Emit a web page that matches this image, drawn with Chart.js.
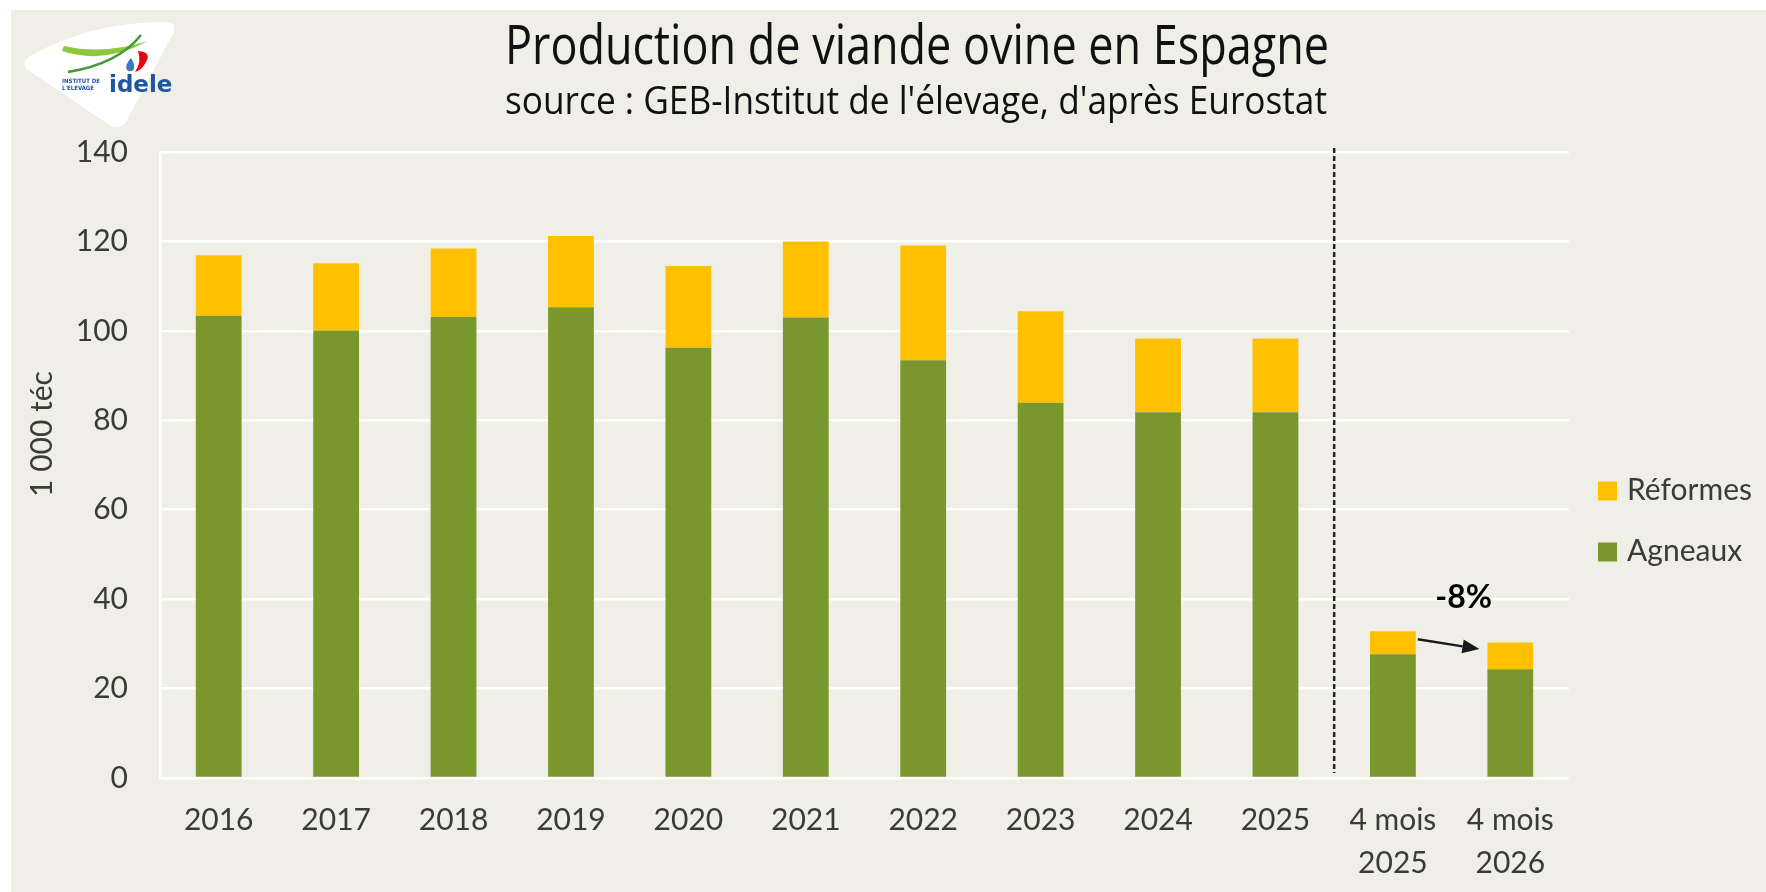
<!DOCTYPE html>
<html lang="fr">
<head>
<meta charset="utf-8">
<title>Production de viande ovine en Espagne</title>
<script src="https://cdn.jsdelivr.net/npm/chart.js@4.4.1/dist/chart.umd.min.js"></script>
<style>
    html, body { margin: 0; padding: 0; background: #ffffff; }
    #wrap { width: 1766px; height: 892px; }
</style>
</head>
<body>
<div id="wrap"><canvas id="chart" width="1766" height="892"></canvas></div>
<script>
// Data (1 000 téc)
const categories = ['2016', '2017', '2018', '2019', '2020', '2021', '2022', '2023', '2024', '2025',
    ['4 mois', '2025'], ['4 mois', '2026']];
const agneaux = [103.4, 100.1, 103.1, 105.3, 96.2, 103.0, 93.4, 83.9, 81.8, 81.8, 27.7, 24.3];
const reformes = [13.5, 15.0, 15.3, 15.9, 18.3, 17.0, 25.7, 20.5, 16.5, 16.5, 5.1, 6.0];
const yTicks = [0, 20, 40, 60, 80, 100, 120, 140];

const TITLE = 'Production de viande ovine en Espagne';
const SUBTITLE = "source : GEB-Institut de l'élevage, d'après Eurostat";
const Y_TITLE = '1 000 téc';
const CHANGE_LABEL = '-8%';

const BG = '#efefe7';
const GREEN = '#7a972d';
const YELLOW = '#ffc000';
const TEXT = '#3a3a3a';
const FONT = 'Lato, "Open Sans", sans-serif';

// Draw text squeezed or stretched horizontally so that it covers a given width
function drawFitted(ctx, text, cx, baseline, font, width) {
    ctx.save();
    ctx.font = font;
    const w = ctx.measureText(text).width;
    ctx.translate(cx, baseline);
    ctx.scale(width / w, 1);
    ctx.textAlign = 'center';
    ctx.textBaseline = 'alphabetic';
    ctx.fillText(text, 0, 0);
    ctx.restore();
}

function drawLogo(ctx) {
    ctx.save();
    // white rounded triangle, top edge slightly bulging
    ctx.fillStyle = '#ffffff';
    ctx.beginPath();
    ctx.moveTo(30, 56);
    ctx.quadraticCurveTo(90, 22, 165, 22);
    ctx.quadraticCurveTo(178, 22, 173, 34);
    ctx.lineTo(126, 122);
    ctx.quadraticCurveTo(118, 132, 108, 124);
    ctx.lineTo(28, 70);
    ctx.quadraticCurveTo(20, 63, 30, 56);
    ctx.closePath();
    ctx.fill();

    // light green swoosh
    ctx.fillStyle = '#8dc63f';
    ctx.beginPath();
    ctx.moveTo(62, 51);
    ctx.quadraticCurveTo(104, 65, 148, 41);
    ctx.quadraticCurveTo(104, 55, 64, 46);
    ctx.closePath();
    ctx.fill();
    // dark green stroke
    ctx.strokeStyle = '#3f9b35';
    ctx.lineWidth = 2.5;
    ctx.beginPath();
    ctx.moveTo(68, 72);
    ctx.quadraticCurveTo(118, 64, 141, 35);
    ctx.stroke();
    // red shape
    ctx.fillStyle = '#e30613';
    ctx.beginPath();
    ctx.moveTo(138, 51);
    ctx.quadraticCurveTo(152, 52, 146, 62);
    ctx.quadraticCurveTo(142, 70, 135, 72);
    ctx.quadraticCurveTo(142, 62, 138, 51);
    ctx.fill();
    // blue drop
    ctx.fillStyle = '#3a78c2';
    ctx.beginPath();
    ctx.moveTo(131, 58);
    ctx.quadraticCurveTo(124, 66, 127, 70);
    ctx.quadraticCurveTo(131, 73, 134, 69);
    ctx.quadraticCurveTo(135, 64, 131, 58);
    ctx.fill();

    // texts
    ctx.fillStyle = '#1f55a5';
    ctx.font = 'bold 23px "DejaVu Sans", sans-serif';
    ctx.textBaseline = 'alphabetic';
    ctx.textAlign = 'left';
    ctx.fillText('idele', 109, 92);
    ctx.font = 'bold 6px "DejaVu Sans Condensed", "DejaVu Sans", sans-serif';
    ctx.fillText('INSTITUT DE', 62, 83);
    ctx.fillText("L'ELEVAGE", 62, 90);
    ctx.restore();
}

const backgroundPlugin = {
    id: 'background',
    beforeDraw(chart) {
        const { ctx, width, height } = chart;
        ctx.save();
        ctx.fillStyle = '#ffffff';
        ctx.fillRect(0, 0, width, height);
        ctx.fillStyle = BG;
        ctx.fillRect(11, 10, width - 11, height - 10);
        ctx.restore();
        drawLogo(ctx);
    }
};

const decorPlugin = {
    id: 'decor',
    afterDraw(chart) {
        const { ctx, chartArea, scales } = chart;
        const x = scales.x, y = scales.y;
        ctx.save();

        // titles
        ctx.fillStyle = '#111111';
        drawFitted(ctx, TITLE, 917, 64, '54px "Open Sans", sans-serif', 824);
        drawFitted(ctx, SUBTITLE, 916, 114, '38px "Open Sans", sans-serif', 822);

        // y axis title
        ctx.save();
        ctx.translate(42, 434);
        ctx.rotate(-Math.PI / 2);
        ctx.fillStyle = TEXT;
        ctx.font = '30px ' + FONT;
        ctx.textAlign = 'center';
        ctx.textBaseline = 'middle';
        ctx.fillText(Y_TITLE, 0, 0);
        ctx.restore();

        // dashed separator between annual and 4-month data
        const sepX = (x.getPixelForValue(9) + x.getPixelForValue(10)) / 2;
        ctx.strokeStyle = '#222222';
        ctx.lineWidth = 2.5;
        ctx.setLineDash([5, 3]);
        ctx.beginPath();
        ctx.moveTo(sepX, chartArea.top - 4);
        ctx.lineTo(sepX, chartArea.bottom - 5);
        ctx.stroke();
        ctx.setLineDash([]);

        // arrow between the two 4-month bars
        const meta = chart.getDatasetMeta(0);
        const halfBar = meta.data[10].width / 2;
        const t0 = agneaux[10] + reformes[10];
        const t1 = agneaux[11] + reformes[11];
        const x0 = x.getPixelForValue(10) + halfBar + 2;
        const y0 = y.getPixelForValue(t0) + 8;
        const x1 = x.getPixelForValue(11) - halfBar - 8;
        const y1 = y.getPixelForValue(t1) + 6.5;
        const ang = Math.atan2(y1 - y0, x1 - x0);
        const headLen = 17, headW = 7;
        ctx.strokeStyle = '#1a1a1a';
        ctx.fillStyle = '#1a1a1a';
        ctx.lineWidth = 2.5;
        ctx.beginPath();
        ctx.moveTo(x0, y0);
        ctx.lineTo(x1 - headLen * Math.cos(ang), y1 - headLen * Math.sin(ang));
        ctx.stroke();
        ctx.beginPath();
        ctx.moveTo(x1, y1);
        ctx.lineTo(x1 - headLen * Math.cos(ang) + headW * Math.sin(ang), y1 - headLen * Math.sin(ang) - headW * Math.cos(ang));
        ctx.lineTo(x1 - headLen * Math.cos(ang) - headW * Math.sin(ang), y1 - headLen * Math.sin(ang) + headW * Math.cos(ang));
        ctx.closePath();
        ctx.fill();

        // change label
        ctx.fillStyle = '#000000';
        ctx.font = 'bold 32px ' + FONT;
        ctx.textAlign = 'center';
        ctx.textBaseline = 'middle';
        const midX = (x.getPixelForValue(10) + x.getPixelForValue(11)) / 2;
        ctx.fillText(CHANGE_LABEL, midX + 12, y.getPixelForValue(t0) - 34);

        // legend (top: Réformes, bottom: Agneaux)
        const items = chart.data.datasets.slice().reverse();
        const boxX = chartArea.right + 29;
        const rowY = [491, 552];
        ctx.font = '30px ' + FONT;
        ctx.textAlign = 'left';
        items.forEach((ds, i) => {
            ctx.fillStyle = ds.backgroundColor;
            ctx.fillRect(boxX, rowY[i] - 9.5, 19, 19);
            ctx.fillStyle = TEXT;
            ctx.fillText(ds.label, boxX + 29, rowY[i] - 1);
        });
        ctx.restore();
    }
};

new Chart(document.getElementById('chart').getContext('2d'), {
    type: 'bar',
    data: {
        labels: categories,
        datasets: [
            { label: 'Agneaux', data: agneaux, backgroundColor: GREEN },
            { label: 'Réformes', data: reformes, backgroundColor: YELLOW }
        ]
    },
    options: {
        responsive: false,
        devicePixelRatio: 1,
        animation: false,
        layout: { padding: { top: 152, right: 197, bottom: 0, left: 0 } },
        datasets: { bar: { categoryPercentage: 1, barPercentage: 0.39 } },
        plugins: {
            legend: { display: false },
            tooltip: { enabled: false }
        },
        scales: {
            x: {
                stacked: true,
                grid: { display: false, drawTicks: false },
                border: { display: false },
                ticks: {
                    color: TEXT,
                    padding: 21,
                    maxRotation: 0,
                    font: { family: FONT, size: 30, lineHeight: 1.433 }
                },
                afterFit(scale) { scale.height = 114; }
            },
            y: {
                stacked: true,
                min: 0,
                max: 140,
                grid: { color: '#ffffff', lineWidth: 2.5, drawTicks: false },
                border: { display: true, color: '#ffffff', width: 2.5 },
                afterBuildTicks(scale) { scale.ticks = yTicks.map(v => ({ value: v })); },
                ticks: {
                    color: TEXT,
                    padding: 32,
                    font: { family: FONT, size: 30 }
                },
                afterFit(scale) { scale.width = 160; }
            }
        }
    },
    plugins: [backgroundPlugin, decorPlugin]
});
</script>
</body>
</html>
